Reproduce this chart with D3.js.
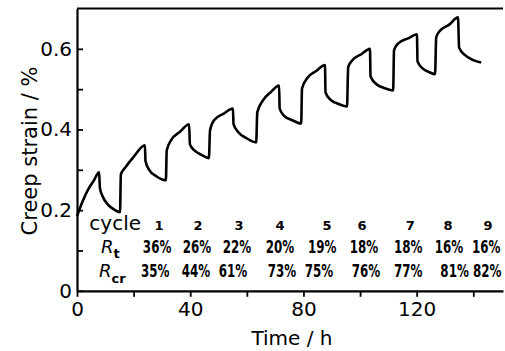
<!DOCTYPE html>
<html>
<head>
<meta charset="utf-8">
<script src="https://cdn.jsdelivr.net/npm/d3@7"></script>
<style>
  body { margin: 0; background: #fff; }
  svg { display: block; }
  text { font-family: "DejaVu Sans", sans-serif; fill: #000; }
</style>
</head>
<body>
<script>
// creep strain vs time (time in h, strain in %)
var timeH = [
  0, 2, 4, 6, 7.8,
  8.1, 9, 11, 13, 15.2,
  15.5, 17, 20, 24,
  24.2, 25.5, 28, 31.4,
  31.7, 33.2, 36.5, 39.6,
  39.9, 41.5, 44, 46.6,
  47, 48.4, 52, 55.1,
  55.3, 57, 60, 63.3,
  63.7, 65.7, 68.5, 71.4,
  71.6, 73, 76, 79.2,
  79.5, 81.3, 84.5, 87.6,
  87.8, 89.5, 92.5, 95.4,
  95.8, 97.2, 100.5, 103.5,
  103.7, 105.5, 108.5, 111.7,
  112, 113.4, 117, 120.1,
  120.3, 122, 124.5, 126.5,
  126.9, 128, 131.5, 134.6,
  135, 137, 140, 142.8
];
var strain = [
  0.185, 0.222, 0.252, 0.274, 0.294,
  0.255, 0.235, 0.213, 0.202, 0.195,
  0.289, 0.305, 0.332, 0.361,
  0.322, 0.300, 0.284, 0.274,
  0.348, 0.373, 0.395, 0.413,
  0.363, 0.348, 0.337, 0.329,
  0.398, 0.423, 0.440, 0.452,
  0.413, 0.393, 0.378, 0.368,
  0.443, 0.472, 0.493, 0.509,
  0.452, 0.435, 0.423, 0.415,
  0.502, 0.527, 0.545, 0.560,
  0.492, 0.474, 0.463, 0.457,
  0.554, 0.571, 0.587, 0.600,
  0.532, 0.514, 0.503, 0.497,
  0.596, 0.613, 0.626, 0.636,
  0.569, 0.552, 0.542, 0.537,
  0.628, 0.643, 0.660, 0.678,
  0.603, 0.585, 0.572, 0.566
];

// table written inside the plot
var cycles = ["1", "2", "3", "4", "5", "6", "7", "8", "9"];
var rtValues = ["36%", "26%", "22%", "20%", "19%", "18%", "18%", "16%", "16%"];
var rcrValues = ["35%", "44%", "61%", "73%", "75%", "76%", "77%", "81%", "82%"];
// where each column sits, in hours
var cycleAt = [29.0, 42.8, 57.2, 71.7, 88.3, 100.7, 117.7, 131.1, 145.2];
var rtAt = [28.3, 42.4, 56.5, 71.7, 86.6, 101.4, 117.0, 131.4, 144.6];
var rcrAt = [27.6, 42.0, 55.1, 72.4, 85.5, 102.1, 117.0, 133.4, 144.9];

var xTicks = [0, 20, 40, 60, 80, 100, 120, 140];
var xLabels = [0, 40, 80, 120];
var yTicks = [0, 0.1, 0.2, 0.3, 0.4, 0.5, 0.6];
var yLabels = [0, 0.2, 0.4, 0.6];

var width = 505, height = 351;
var margin = { top: 8.5, right: 2, bottom: 60.2, left: 77 };

var svg = d3.select("body").append("svg")
  .attr("width", width)
  .attr("height", height);

var x = d3.scaleLinear()
  .domain([0, 150.5])
  .range([margin.left, width - margin.right]);

var y = d3.scaleLinear()
  .domain([0, 0.7])
  .range([height - margin.bottom, margin.top]);

// x axis, ticks outward
var xAxis = svg.append("g")
  .attr("transform", "translate(0," + y(0) + ")")
  .call(d3.axisBottom(x).tickValues(xTicks).tickSizeInner(6).tickSizeOuter(0)
    .tickFormat(function (d) { return xLabels.indexOf(d) >= 0 ? d : ""; }));
xAxis.select(".domain").attr("stroke-width", 2.2);
xAxis.selectAll(".tick line").attr("stroke-width", 1.8);
xAxis.selectAll(".tick text")
  .attr("font-size", 20)
  .attr("font-family", "DejaVu Sans")
  .attr("y", 11);

// y axis, ticks inward
var yAxis = svg.append("g")
  .attr("transform", "translate(" + x(0) + ",0)")
  .call(d3.axisLeft(y).tickValues(yTicks).tickSizeInner(-6).tickSizeOuter(0)
    .tickFormat(function (d) {
      var lab = yLabels.find(function (v) { return Math.abs(v - d) < 1e-9; });
      return lab === undefined ? "" : (lab === 0 ? "0" : d3.format(".1f")(lab));
    }));
yAxis.select(".domain").attr("stroke-width", 2.2);
yAxis.selectAll(".tick line").attr("stroke-width", 1.8);
yAxis.selectAll(".tick text")
  .attr("font-size", 20)
  .attr("font-family", "DejaVu Sans")
  .attr("x", -5);

// top frame line
svg.append("line")
  .attr("x1", x(0)).attr("x2", x(150.5))
  .attr("y1", y(0.7)).attr("y2", y(0.7))
  .attr("stroke", "#000")
  .attr("stroke-width", 2.2);

// curve
var pts = timeH.map(function (t, i) { return [t, strain[i]]; });
var line = d3.line()
  .x(function (d) { return x(d[0]); })
  .y(function (d) { return y(d[1]); })
  .curve(d3.curveMonotoneX);

svg.append("path")
  .datum(pts)
  .attr("d", line)
  .attr("fill", "none")
  .attr("stroke", "#000")
  .attr("stroke-width", 2.6)
  .attr("stroke-linejoin", "round");

// axis titles
svg.append("text")
  .attr("x", 292).attr("y", 345)
  .attr("text-anchor", "middle")
  .attr("font-size", 20)
  .text("Time / h");

svg.append("text")
  .attr("transform", "translate(37,151) rotate(-90)")
  .attr("text-anchor", "middle")
  .attr("font-size", 21)
  .text("Creep strain / %");

// table
var rowCycle = 230, rowRt = 253, rowRcr = 277;

svg.append("text")
  .attr("x", 141).attr("y", rowCycle)
  .attr("text-anchor", "end")
  .attr("font-size", 20)
  .text("cycle");

svg.selectAll(".cyc")
  .data(cycles)
  .enter().append("text")
  .attr("class", "cyc")
  .attr("x", function (d, i) { return x(cycleAt[i]); })
  .attr("y", rowCycle)
  .attr("text-anchor", "middle")
  .attr("font-size", 13)
  .attr("font-weight", "bold")
  .text(function (d) { return d; });

var rt = svg.append("text")
  .attr("x", 101).attr("y", rowRt)
  .attr("font-size", 18);
rt.append("tspan").attr("font-style", "italic").text("R");
rt.append("tspan").attr("font-size", 13).attr("font-weight", "bold").attr("dy", 5).text("t");

var rcr = svg.append("text")
  .attr("x", 99).attr("y", rowRcr)
  .attr("font-size", 18);
rcr.append("tspan").attr("font-style", "italic").text("R");
rcr.append("tspan").attr("font-size", 13).attr("font-weight", "bold").attr("dy", 6).text("cr");

// percent values, squeezed sideways like the narrow type of the original
function pctRow(vals, at, yy) {
  svg.append("g").selectAll("text")
    .data(vals)
    .enter().append("text")
    .attr("transform", function (d, i) {
      return "translate(" + x(at[i]) + "," + yy + ") scale(0.7,1)";
    })
    .attr("text-anchor", "middle")
    .attr("font-family", "Liberation Sans")
    .attr("font-size", 17)
    .attr("font-weight", "bold")
    .text(function (d) { return d; });
}
pctRow(rtValues, rtAt, rowRt);
pctRow(rcrValues, rcrAt, rowRcr);
</script>
</body>
</html>
